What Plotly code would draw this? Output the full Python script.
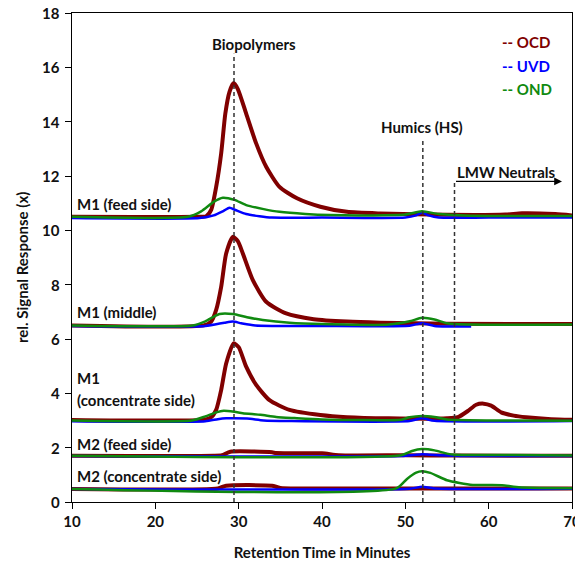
import plotly.graph_objects as go

# ---- data ----
m1f_ocd_t = [10, 25, 26.1, 26.7, 27.3, 27.9, 28.4, 28.9, 29.4, 29.9, 30.9, 32.1, 33.3, 34.9, 37.0, 39.8, 43.0, 47.0, 55, 62, 64, 68, 70]
m1f_ocd_y = [10.5, 10.5, 10.52, 10.75, 11.6, 12.83, 14.3, 15.1, 15.42, 15.2, 14.3, 13.2, 12.34, 11.6, 11.18, 10.87, 10.68, 10.62, 10.57, 10.58, 10.63, 10.6, 10.55]
m1f_uvd_t = [10, 25.3, 27, 28.2, 28.9, 29.6, 30.9, 32.5, 34, 40, 50, 51.3, 52, 52.8, 54, 60, 70]
m1f_uvd_y = [10.45, 10.45, 10.55, 10.72, 10.83, 10.75, 10.6, 10.52, 10.47, 10.47, 10.47, 10.55, 10.65, 10.55, 10.47, 10.47, 10.47]
m1f_ond_t = [10, 23.9, 25.5, 27, 28.1, 29.5, 30.9, 33, 34.9, 38, 41, 46, 50, 52, 54, 57, 62, 70]
m1f_ond_y = [10.5, 10.5, 10.7, 11.05, 11.2, 11.12, 10.93, 10.78, 10.68, 10.6, 10.56, 10.55, 10.58, 10.7, 10.6, 10.55, 10.53, 10.53]

m1m_ocd_t = [10, 25.8, 26.7, 27.3, 27.9, 28.5, 29.3, 29.9, 30.5, 31.7, 33.3, 35.7, 39, 43, 47, 55, 70]
m1m_ocd_y = [6.5, 6.5, 6.64, 7.07, 7.92, 9.15, 9.76, 9.6, 9.15, 8.17, 7.37, 6.94, 6.73, 6.64, 6.6, 6.56, 6.55]
m1m_uvd_t = [10, 26, 28.3, 29.3, 30.3, 32, 40, 50.5, 52, 53.5, 55, 57.9]
m1m_uvd_y = [6.48, 6.48, 6.6, 6.64, 6.58, 6.5, 6.48, 6.49, 6.58, 6.48, 6.46, 6.46]
m1m_ond_t = [10, 24.5, 26, 27.7, 29.3, 31, 32.9, 36.1, 40, 48, 50.5, 52, 53.5, 55, 58, 70]
m1m_ond_y = [6.5, 6.5, 6.65, 6.92, 6.92, 6.8, 6.7, 6.6, 6.55, 6.53, 6.65, 6.78, 6.72, 6.58, 6.53, 6.53]

m1c_ocd_t = [10, 25.8, 26.7, 27.3, 27.9, 28.5, 29.4, 30.0, 30.9, 32.1, 33.7, 36.1, 39.8, 43, 48, 55, 56.3, 57.5, 58.5, 59.4, 60.3, 61.5, 63, 64.5, 67.5, 70]
m1c_ocd_y = [3.02, 3.03, 3.12, 3.39, 4.12, 5.1, 5.84, 5.7, 4.98, 4.31, 3.75, 3.39, 3.2, 3.12, 3.08, 3.08, 3.12, 3.35, 3.58, 3.62, 3.55, 3.3, 3.18, 3.12, 3.05, 3.03]
m1c_uvd_t = [10, 26, 27.5, 28.5, 31, 33, 36, 50.5, 52, 53.5, 70]
m1c_uvd_y = [2.97, 2.97, 3.05, 3.08, 3.07, 3.0, 2.98, 2.98, 3.08, 2.99, 2.98]
m1c_ond_t = [10, 24.4, 26, 27.3, 28.2, 29.5, 30.5, 32.6, 34.5, 36.7, 40, 49.5, 50.5, 52, 53.5, 55, 62, 70]
m1c_ond_y = [3.0, 3.0, 3.15, 3.3, 3.36, 3.32, 3.27, 3.21, 3.13, 3.09, 3.04, 3.03, 3.12, 3.17, 3.13, 3.04, 3.0, 2.99]

m2f_ocd_t = [10, 27, 28, 29, 34, 34.5, 40, 42, 50, 56, 70]
m2f_ocd_y = [1.7, 1.7, 1.72, 1.85, 1.83, 1.8, 1.79, 1.72, 1.72, 1.71, 1.7]
m2f_uvd_t = [10, 49.5, 51, 52, 53, 55, 58, 70]
m2f_uvd_y = [1.69, 1.69, 1.73, 1.76, 1.74, 1.71, 1.69, 1.69]
m2f_ond_t = [10, 49.5, 50.8, 52, 53.5, 55, 56, 63, 70]
m2f_ond_y = [1.7, 1.72, 1.88, 1.95, 1.9, 1.78, 1.74, 1.73, 1.71]

m2c_ocd_t = [10, 27.5, 28.5, 34, 35, 50, 70]
m2c_ocd_y = [0.48, 0.5, 0.6, 0.6, 0.52, 0.5, 0.5]
m2c_uvd_t = [10, 50.5, 52, 53.5, 70]
m2c_uvd_y = [0.48, 0.49, 0.56, 0.5, 0.49]
m2c_ond_t = [10, 48.9, 50.2, 51.3, 52, 53, 55, 56.5, 58.1, 61.6, 63, 65, 70]
m2c_ond_y = [0.48, 0.5, 0.85, 1.08, 1.13, 1.07, 0.8, 0.7, 0.63, 0.62, 0.56, 0.52, 0.51]

x_ticks = [10, 20, 30, 40, 50, 60, 70]
y_ticks = [0, 2, 4, 6, 8, 10, 12, 14, 16, 18]

sample_labels = ["M1 (feed side)", "M1 (middle)", "M1", "(concentrate side)", "M2 (feed side)", "M2 (concentrate side)"]
sample_label_y = [10.97, 7.0, 4.56, 3.75, 2.13, 0.96]

# ---- styling ----
OCD_C = "#800000"
UVD_C = "#0000FF"
OND_C = "#108A10"
FONT = "Lato"

fig = go.Figure()
series = [
    (m1f_ocd_t, m1f_ocd_y, OCD_C, 4), (m1f_uvd_t, m1f_uvd_y, UVD_C, 2.5), (m1f_ond_t, m1f_ond_y, OND_C, 2.5),
    (m1m_ocd_t, m1m_ocd_y, OCD_C, 4), (m1m_uvd_t, m1m_uvd_y, UVD_C, 2.5), (m1m_ond_t, m1m_ond_y, OND_C, 2.5),
    (m1c_ocd_t, m1c_ocd_y, OCD_C, 4), (m1c_uvd_t, m1c_uvd_y, UVD_C, 2.5), (m1c_ond_t, m1c_ond_y, OND_C, 2.5),
    (m2f_ocd_t, m2f_ocd_y, OCD_C, 4), (m2f_uvd_t, m2f_uvd_y, UVD_C, 2.5), (m2f_ond_t, m2f_ond_y, OND_C, 2.5),
    (m2c_ocd_t, m2c_ocd_y, OCD_C, 4), (m2c_uvd_t, m2c_uvd_y, UVD_C, 2.5), (m2c_ond_t, m2c_ond_y, OND_C, 2.5),
]
# draw OCD first, then UVD, then OND
for order in (OCD_C, UVD_C, OND_C):
    for t, y, c, w in series:
        if c == order:
            fig.add_trace(go.Scatter(x=t, y=y, mode="lines",
                                     line=dict(color=c, width=w, shape="spline", smoothing=0.6),
                                     showlegend=False, hoverinfo="skip"))

# dashed marker lines
dash_style = dict(color="#333333", width=1.5, dash="4px,3px")
fig.add_shape(type="line", x0=29.44, x1=29.44, y0=0, y1=16.5, line=dash_style, layer="above")
fig.add_shape(type="line", x0=52.1, x1=52.1, y0=0, y1=13.4, line=dash_style, layer="above")
fig.add_shape(type="line", x0=55.9, x1=55.9, y0=0, y1=11.8, line=dash_style, layer="above")

# LMW arrow
fig.add_annotation(x=68.8, y=11.8, ax=55.9, ay=11.8, xref="x", yref="y", axref="x", ayref="y",
                   showarrow=True, arrowhead=2, arrowsize=1.2, arrowwidth=1.3, arrowcolor="#000", text="")

bold = dict(family=FONT, size=15, color="#111111", weight="bold")
fig.add_annotation(x=31.8, y=16.85, text="Biopolymers", showarrow=False, font=bold)
fig.add_annotation(x=52.0, y=13.8, text="Humics (HS)", showarrow=False, font=bold)
fig.add_annotation(x=62.1, y=12.15, text="LMW Neutrals", showarrow=False, font=bold)

for txt, yy in zip(sample_labels, sample_label_y):
    fig.add_annotation(x=10.3, y=yy, text=txt, showarrow=False, xanchor="left", font=bold)

for txt, yy, c in [("-- OCD", 16.93, OCD_C), ("-- UVD", 16.05, UVD_C), ("-- OND", 15.2, OND_C)]:
    fig.add_annotation(x=61.3, y=yy, text=txt, showarrow=False, xanchor="left",
                       font=dict(family=FONT, size=15, color=c, weight="bold"))

# y tick labels, placed on the y axis scale next to the axis line
tick_font = dict(family=FONT, size=15, color="#111111", weight="bold")
for v in y_ticks:
    fig.add_annotation(x=0, xref="paper", y=v, yref="y", text=str(v), showarrow=False,
                       xanchor="right", yanchor="middle", xshift=-10, font=tick_font)
# y axis title
fig.add_annotation(x=0, xref="paper", y=0.4785, yref="paper", text="rel. Signal Response (x)",
                   textangle=-90, showarrow=False, xanchor="center", yanchor="middle", xshift=-50,
                   font=dict(family=FONT, size=15, color="#111111", weight="bold"))

axis_common = dict(showline=True, linecolor="black", linewidth=1, mirror=True, ticks="outside",
                   ticklen=6, tickcolor="black", showgrid=False, zeroline=False, automargin=False,
                   ticklabeloverflow="allow", tickfont=tick_font)
fig.update_xaxes(range=[10, 70], tickvals=x_ticks, ticktext=[str(v) for v in x_ticks],
                 title=dict(text="Retention Time in Minutes", font=dict(family=FONT, size=15, color="#111111", weight="bold"), standoff=18),
                 **axis_common)
fig.update_yaxes(range=[0, 18], tickvals=y_ticks, showticklabels=False, **axis_common)
# page body has an 8px default margin; size/margins compensate so the plot lands where the reference has it
fig.update_layout(width=575, height=557, margin=dict(l=64, r=11, t=5, b=63),
                  plot_bgcolor="white", paper_bgcolor="white", hovermode=False, dragmode=False)
fig.write_html("out.html", config={"displayModeBar": False, "staticPlot": True})
